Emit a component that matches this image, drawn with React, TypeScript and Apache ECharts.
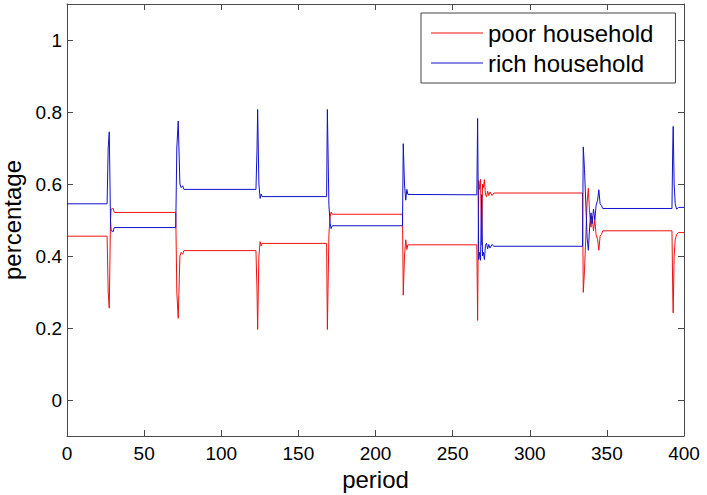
import React, { useEffect, useRef } from "react";
import * as echarts from "echarts";

const periods = [
  0, 26, 26.7, 27.4, 28.2, 28.6, 30.0, 30.6,
  70.5, 71.2, 72.1, 73.2, 74.0, 75.0, 75.8,
  122.5, 123.2, 123.6, 124.4, 125.2, 125.9, 126.5,
  168.3, 168.8, 169.8, 170.6, 171.2, 172.0,
  217.5, 218.0, 218.8, 219.6, 220.3, 221.0,
  265.7, 266.2, 266.9, 267.5, 268.1, 268.8, 269.4, 270.0, 270.6, 271.3, 272.0, 272.7, 273.4, 274.2, 275.5, 276.8,
  334.2, 334.7, 335.5, 336.3, 337.2, 338.0, 338.8, 339.7, 340.5, 341.3, 342.2, 343.0, 344.0, 344.8, 345.6, 346.5, 347.3,
  392.2, 392.7, 393.0, 393.6, 394.3, 395.2, 396.5, 400,
];

const poorHousehold = [
  0.455, 0.455, 0.30, 0.255, 0.50, 0.53, 0.532, 0.521,
  0.521, 0.30, 0.227, 0.40, 0.41, 0.405, 0.415,
  0.415, 0.30, 0.196, 0.40, 0.44, 0.428, 0.435,
  0.435, 0.196, 0.46, 0.51, 0.522, 0.516,
  0.516, 0.291, 0.40, 0.445, 0.418, 0.431,
  0.431, 0.221, 0.61, 0.585, 0.613, 0.43, 0.60, 0.59, 0.612, 0.57, 0.565, 0.58, 0.568, 0.578, 0.568, 0.575,
  0.575, 0.299, 0.36, 0.45, 0.55, 0.588, 0.52, 0.48, 0.51, 0.47, 0.50, 0.46, 0.445, 0.416, 0.455, 0.46, 0.47,
  0.47, 0.30, 0.242, 0.40, 0.445, 0.46, 0.465, 0.465,
];

const richHousehold = [
  0.545, 0.545, 0.70, 0.745, 0.50, 0.47, 0.468, 0.479,
  0.479, 0.70, 0.775, 0.60, 0.59, 0.595, 0.585,
  0.585, 0.70, 0.807, 0.60, 0.56, 0.572, 0.565,
  0.565, 0.807, 0.54, 0.49, 0.476, 0.484,
  0.484, 0.712, 0.60, 0.555, 0.585, 0.571,
  0.570, 0.782, 0.39, 0.41, 0.388, 0.57, 0.40, 0.41, 0.39, 0.43, 0.435, 0.42, 0.432, 0.422, 0.432, 0.427,
  0.427, 0.703, 0.64, 0.55, 0.45, 0.416, 0.48, 0.52, 0.49, 0.53, 0.50, 0.54, 0.555, 0.584, 0.545, 0.54, 0.532,
  0.532, 0.70, 0.76, 0.60, 0.545, 0.53, 0.535, 0.535,
];

const yTicks = [0, 0.2, 0.4, 0.6, 0.8, 1];
const seriesNames = ["poor household", "rich household"];
const seriesColors = ["#ee1111", "#1111cc"];

const FONT = 'Arial, "Liberation Sans", sans-serif';
const AXIS_COLOR = "#4a4a4a";

export default function App() {
  const ref = useRef<HTMLDivElement>(null);
  useEffect(() => {
    if (!ref.current) return;
    const chart = echarts.init(ref.current, undefined, { renderer: "svg" });
    const poorData = periods.map((p, i) => [p, poorHousehold[i]]);
    const richData = periods.map((p, i) => [p, richHousehold[i]]);
    const xBase = {
      type: "value" as const,
      min: 0,
      max: 400,
      interval: 50,
      splitLine: { show: false },
      axisLine: { show: true, onZero: false, lineStyle: { color: AXIS_COLOR, width: 1 } },
      axisTick: { show: true, inside: true, length: 6, lineStyle: { color: AXIS_COLOR } },
    };
    const yBase = {
      type: "value" as const,
      min: -0.1,
      max: 1.1,
      splitLine: { show: false },
      axisLine: { show: true, onZero: false, lineStyle: { color: AXIS_COLOR, width: 1 } },
      axisTick: { show: true, inside: true, length: 6, customValues: yTicks, lineStyle: { color: AXIS_COLOR } },
    };
    chart.setOption({
      animation: false,
      backgroundColor: "#ffffff",
      textStyle: { fontFamily: FONT },
      grid: { left: 67, top: 4, width: 617, height: 432, containLabel: false, outerBoundsMode: "none" },
      legend: {
        data: seriesNames,
        orient: "vertical",
        left: 421,
        top: 13,
        padding: [8, 22, 8, 10],
        itemWidth: 52,
        itemHeight: 1,
        itemGap: 6,
        icon: "rect",
        backgroundColor: "#ffffff",
        borderColor: "#444444",
        borderWidth: 1,
        borderRadius: 0,
        textStyle: { fontSize: 24, color: "#000000", fontFamily: FONT },
      },
      xAxis: [
        {
          ...xBase,
          position: "bottom",
          name: "period",
          nameLocation: "middle",
          nameGap: 26,
          nameTextStyle: { fontSize: 24, color: "#000", fontFamily: FONT },
          axisLabel: { show: true, fontSize: 19, color: "#000", margin: 8, fontFamily: FONT },
        },
        {
          ...xBase,
          position: "top",
          axisLabel: { show: false },
        },
      ],
      yAxis: [
        {
          ...yBase,
          position: "left",
          name: "percentage",
          nameLocation: "middle",
          nameGap: 35,
          nameRotate: 90,
          nameTextStyle: { fontSize: 24, color: "#000", fontFamily: FONT },
          axisLabel: {
            show: true,
            fontSize: 19,
            color: "#000",
            margin: 5,
            fontFamily: FONT,
            customValues: yTicks,
            formatter: (v: number) => String(Number(v.toFixed(1))),
          },
        },
        {
          ...yBase,
          position: "right",
          axisLabel: { show: false, customValues: yTicks },
        },
      ],
      series: [
        {
          name: seriesNames[0],
          type: "line",
          data: poorData,
          xAxisIndex: 0,
          yAxisIndex: 0,
          showSymbol: false,
          symbol: "none",
          color: seriesColors[0],
          lineStyle: { width: 1, color: seriesColors[0] },
          clip: true,
        },
        {
          name: seriesNames[1],
          type: "line",
          data: richData,
          xAxisIndex: 0,
          yAxisIndex: 0,
          showSymbol: false,
          symbol: "none",
          color: seriesColors[1],
          lineStyle: { width: 1, color: seriesColors[1] },
          clip: true,
        },
      ],
    });
    return () => chart.dispose();
  }, []);
  return (
    <div
      ref={ref}
      style={{ position: "fixed", left: 0, top: 0, width: 707, height: 495, background: "#fff" }}
    />
  );
}
